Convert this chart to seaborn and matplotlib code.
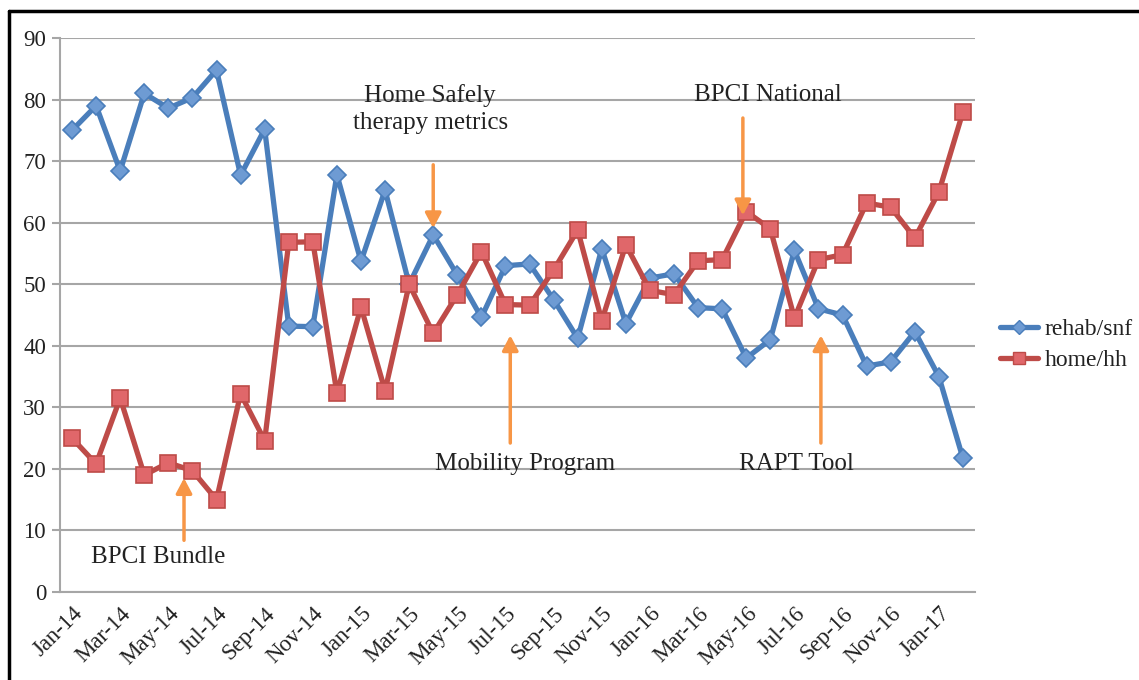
import matplotlib
matplotlib.use("Agg")
import matplotlib.pyplot as plt
import seaborn as sns
import pandas as pd
import numpy as np
from matplotlib.lines import Line2D

months = ["Jan-14","Feb-14","Mar-14","Apr-14","May-14","Jun-14","Jul-14","Aug-14","Sep-14","Oct-14","Nov-14","Dec-14",
          "Jan-15","Feb-15","Mar-15","Apr-15","May-15","Jun-15","Jul-15","Aug-15","Sep-15","Oct-15","Nov-15","Dec-15",
          "Jan-16","Feb-16","Mar-16","Apr-16","May-16","Jun-16","Jul-16","Aug-16","Sep-16","Oct-16","Nov-16","Dec-16",
          "Jan-17","Feb-17"]

rehab_snf = [75, 79, 68.4, 81, 78.6, 80.3, 84.8, 67.7, 75.2, 43.2, 43.1, 67.8,
             53.7, 65.3, 50, 58, 51.5, 44.6, 53, 53.3, 47.5, 41.2, 55.8, 43.6,
             51, 51.7, 46.2, 46, 38, 41, 55.5, 46, 45, 36.7, 37.4, 42.3,
             35, 21.7]

home_hh = [25, 20.8, 31.5, 19, 21, 19.7, 15, 32.2, 24.6, 56.8, 56.9, 32.3,
           46.3, 32.7, 50, 42, 48.3, 55.3, 46.7, 46.6, 52.3, 58.8, 44.1, 56.4,
           49, 48.3, 53.8, 54, 61.8, 59, 44.5, 54, 54.8, 63.2, 62.5, 57.5,
           65, 78]

series_names = ["rehab/snf", "home/hh"]
annotation_labels = ["Home Safely\ntherapy metrics", "BPCI National", "Mobility Program",
                     "RAPT Tool", "BPCI Bundle"]

sns.set_theme(style="white")
plt.rcParams['font.family'] = ['Liberation Serif', 'DejaVu Serif']

df = pd.DataFrame({
    "idx": list(range(len(months))) * 2,
    "value": rehab_snf + home_hh,
    "series": [series_names[0]] * len(months) + [series_names[1]] * len(months),
})

blue = "#4A7EBB"
red = "#BE4B48"
blue_fill = "#6E9BD3"
red_fill = "#E0676A"
orange = "#F79646"
grid_c = "#A6A6A6"
text_c = "#222222"

fig = plt.figure(figsize=(11.39, 6.8), dpi=100)
ax = fig.add_axes([60/1139, 1 - 592/680, (975 - 60)/1139, (592 - 38)/680])

sns.lineplot(data=df, x="idx", y="value", hue="series", style="series",
             palette={series_names[0]: blue, series_names[1]: red},
             markers={series_names[0]: "D", series_names[1]: "s"},
             dashes=False, linewidth=3.8, markersize=9, ax=ax, legend=False, zorder=3)

for line, lc, fc, ms in zip(ax.get_lines(), [blue, red], [blue_fill, red_fill], [9.5, 12]):
    line.set_markerfacecolor(fc)
    line.set_markeredgecolor(lc)
    line.set_markeredgewidth(1.2)
    line.set_markersize(ms)

ax.set_xlim(-0.5, len(months) - 0.5)
ax.set_ylim(0, 90)
ax.set_yticks(range(0, 91, 10))
ax.yaxis.grid(True, color=grid_c, linewidth=1.5)
ax.set_axisbelow(True)

ax.set_xticks(range(0, len(months), 2))
ax.set_xticklabels(months[::2], rotation=45, ha="right", rotation_mode="anchor",
                   fontsize=16.5, color=text_c)
ax.set_xticks(np.arange(-0.5, len(months), 2), minor=True)
ax.tick_params(axis="x", which="major", length=0, pad=8)
ax.tick_params(axis="x", which="minor", length=7, width=1.5, color=grid_c, direction="out")
ax.tick_params(axis="y", length=6, width=1.5, color=grid_c, labelsize=16.5, labelcolor=text_c, pad=4, left=True)

for s in ["top", "right"]:
    ax.spines[s].set_visible(False)
for s in ["left", "bottom"]:
    ax.spines[s].set_color(grid_c)
    ax.spines[s].set_linewidth(1.5)
ax.set_xlabel("")
ax.set_ylabel("")

pos = {
    "Home Safely\ntherapy metrics": dict(text=(14.87, 78.5), tail=(15.0, 69.4), head=(15.0, 59.1)),
    "BPCI National": dict(text=(28.9, 80.7), tail=(27.86, 77.0), head=(27.86, 61.2)),
    "Mobility Program": dict(text=(18.8, 20.8), tail=(18.2, 24.2), head=(18.2, 41.7)),
    "RAPT Tool": dict(text=(30.1, 20.8), tail=(31.1, 24.2), head=(31.1, 41.7)),
    "BPCI Bundle": dict(text=(3.57, 5.7), tail=(4.65, 8.4), head=(4.65, 18.5)),
}
for label in annotation_labels:
    p = pos[label]
    ax.text(p["text"][0], p["text"][1], label, ha="center", va="center",
            fontsize=18, color=text_c, linespacing=1.3, zorder=5)
    ax.annotate("", xy=p["head"], xytext=p["tail"],
                arrowprops=dict(arrowstyle="-|>,head_length=0.75,head_width=0.4",
                                color=orange, lw=2.5, shrinkA=0, shrinkB=0),
                zorder=6)

handles = [
    Line2D([0], [0], color=blue, lw=3.8, marker="D", markersize=7, markerfacecolor=blue_fill, markeredgecolor=blue),
    Line2D([0], [0], color=red, lw=3.8, marker="s", markersize=9, markerfacecolor=red_fill, markeredgecolor=red),
]
fig.legend(handles, series_names, loc="center left", bbox_to_anchor=(1000/1139, 1 - 345/680),
           frameon=False, fontsize=17, handlelength=1.6, handletextpad=0.3,
           labelspacing=0.4, labelcolor=text_c, borderpad=0, borderaxespad=0)

fig.add_artist(Line2D([9/1139, 9/1139], [0, 1 - 11/680], transform=fig.transFigure, color="black", lw=2.5))
fig.add_artist(Line2D([9/1139, 1], [1 - 11/680, 1 - 11/680], transform=fig.transFigure, color="black", lw=2.5))

fig.savefig("out.png", dpi=100)
